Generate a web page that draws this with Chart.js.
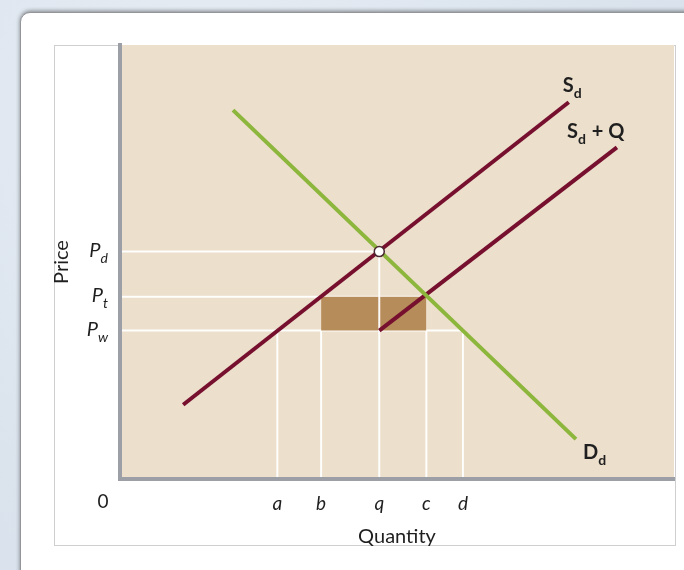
<!DOCTYPE html>
<html>
<head>
<meta charset="utf-8">
<script src="https://cdn.jsdelivr.net/npm/chart.js@4.4.1/dist/chart.umd.min.js"></script>
<style>
  html, body { margin: 0; padding: 0; }
  body { width: 684px; height: 570px; overflow: hidden; position: relative;
    background: radial-gradient(circle at 30% 20%, #e6edf4 0%, #dbe3ed 60%, #d8e1ec 100%); }
  #card { position: absolute; left: 20px; top: 12px; width: 720px; height: 620px; background: #fff;
    border-radius: 10px; border: 1px solid #939599; box-shadow: 0 -1px 4px rgba(0,0,0,0.45); }
  #frame { position: absolute; left: 54px; top: 45px; width: 620px; height: 499px; border: 1px solid #cfcfcf; background: #fff; }
  #wrap { position: absolute; left: 0; top: 0; width: 684px; height: 570px; }
</style>
</head>
<body>
<div id="card"></div>
<div id="frame"></div>
<div id="wrap"><canvas id="chart" width="684" height="570"></canvas></div>
<script>
// quantities on the x axis: a, b, q, c, d
const quantityTicks = [28.4, 36.3, 46.8, 55.3, 61.9];
const quantityLabels = ['a', 'b', 'q', 'c', 'd'];
// prices on the y axis: Pw, Pt, Pd
const priceTicks = [34.2, 42.0, 52.4];
const priceLabels = [['P', 'w'], ['P', 't'], ['P', 'd']];
// curves (end points)
const demandPts = [[20.4, 85.0], [82.3, 9.2]];
const supplyPts = [[11.4, 17.1], [81.0, 86.8]];
const supplyQuotaPts = [[46.8, 34.2], [89.7, 76.4]];
const curveNames = [['S', 'd', ''], ['S', 'd', ' + Q'], ['D', 'd', '']];

const [qa, qb, qq, qc, qd] = quantityTicks;
const [pw, pt, pd] = priceTicks;

const MAROON = '#76102e';
const GREEN = '#8cb63c';
const GUIDE = 'rgba(255,255,255,0.95)';
const TEXT = '#1f1f1f';

function toXY(pts) { return pts.map(p => ({ x: p[0], y: p[1] })); }
function guide(x1, y1, x2, y2) {
  return { data: [{ x: x1, y: y1 }, { x: x2, y: y2 }], borderColor: GUIDE, borderWidth: 2, pointRadius: 0 };
}

function drawSub(ctx, x, y, parts, size, weight, style, align) {
  const mainFont = `${style} ${weight} ${size}px Lato`;
  const subFont = `${style} ${weight} ${Math.round(size * 0.68)}px Lato`;
  ctx.font = mainFont; const w1 = ctx.measureText(parts[0]).width;
  ctx.font = subFont; const w2 = ctx.measureText(parts[1]).width;
  ctx.font = mainFont; const w3 = parts[2] ? ctx.measureText(parts[2]).width : 0;
  let x0 = align === 'right' ? x - (w1 + w2 + w3) : x;
  ctx.textAlign = 'left';
  ctx.textBaseline = 'alphabetic';
  ctx.font = mainFont; ctx.fillText(parts[0], x0, y);
  ctx.font = subFont; ctx.fillText(parts[1], x0 + w1, y + Math.round(size * 0.3));
  if (parts[2]) { ctx.font = mainFont; ctx.fillText(parts[2], x0 + w1 + w2 + 1, y); }
}

const paperPlugin = {
  id: 'paper',
  beforeDraw(chart) {
    const { ctx, chartArea: a } = chart;
    ctx.save();
    ctx.fillStyle = '#ecdfcb';
    ctx.fillRect(a.left, a.top, a.right - a.left, a.bottom - a.top);
    ctx.restore();
  },
  afterDraw(chart) {
    const { ctx } = chart;
    const xs = chart.scales.x, ys = chart.scales.y;
    ctx.save();
    ctx.fillStyle = TEXT;
    // price labels
    priceTicks.forEach((v, i) => {
      const py = ys.getPixelForValue(v);
      drawSub(ctx, 108, py + 5, [priceLabels[i][0], priceLabels[i][1], ''], 20, 'normal', 'italic', 'right');
    });
    // origin
    ctx.font = '19px Lato';
    ctx.textAlign = 'center';
    ctx.textBaseline = 'middle';
    ctx.fillText('0', 103, 502);
    // curve labels
    const ends = [supplyPts[1], supplyQuotaPts[1], demandPts[1]];
    const offs = [[-6, -10], [-50, -9], [7, 20]];
    ends.forEach((p, i) => {
      const px = xs.getPixelForValue(p[0]) + offs[i][0];
      const py = ys.getPixelForValue(p[1]) + offs[i][1];
      drawSub(ctx, px, py, curveNames[i], 20, 'bold', 'normal', 'left');
    });
    ctx.restore();
  }
};

const datasets = [
  { data: [{ x: qq, y: pd }], showLine: false, pointRadius: 5, pointBackgroundColor: '#fff',
    pointBorderColor: '#4a2630', pointBorderWidth: 1.5 },
  { data: toXY(demandPts), borderColor: GREEN, borderWidth: 4, pointRadius: 0 },
  { data: toXY(supplyQuotaPts), borderColor: MAROON, borderWidth: 4, pointRadius: 0 },
  { data: toXY(supplyPts), borderColor: MAROON, borderWidth: 4, pointRadius: 0 },
  guide(qq, 0, qq, pd),
  { data: [{ x: qb, y: pt }, { x: qc, y: pt }], borderWidth: 0, pointRadius: 0,
    fill: { value: pw }, backgroundColor: '#b68c5a' },
  guide(0, pd, qq, pd),
  guide(0, pt, qc, pt),
  guide(0, pw, qd, pw),
  guide(qa, 0, qa, pw),
  guide(qb, 0, qb, pw),
  guide(qc, 0, qc, pw),
  guide(qd, 0, qd, pw)
];

new Chart(document.getElementById('chart'), {
  type: 'line',
  data: { datasets: datasets },
  options: {
    responsive: false,
    animation: false,
    events: [],
    layout: { padding: { top: 45, right: 10, left: 0, bottom: 0 } },
    plugins: { legend: { display: false }, tooltip: { enabled: false } },
    scales: {
      x: {
        type: 'linear', min: 0, max: 100, position: 'bottom',
        afterFit: s => { s.height = 91; },
        afterBuildTicks: s => { s.ticks = quantityTicks.map(v => ({ value: v })); },
        grid: { display: false, drawTicks: false },
        border: { display: true, color: '#9c9fa6', width: 4, z: 1 },
        ticks: { padding: 13, autoSkip: false, maxRotation: 0, color: TEXT,
          font: { family: 'Lato', size: 19, style: 'italic' },
          callback: (v, i) => quantityLabels[i] },
        title: { display: true, text: 'Quantity', color: TEXT,
          font: { family: 'Lato', size: 20 }, padding: { top: 0, bottom: 21 } }
      },
      y: {
        type: 'linear', min: 0, max: 100,
        afterFit: s => { s.width = 120; },
        grid: { display: false, drawTicks: false },
        border: { display: true, color: '#9c9fa6', width: 4, z: 1 },
        ticks: { display: false },
        title: { display: true, text: 'Price', color: TEXT,
          font: { family: 'Lato', size: 20 }, padding: { top: 50, bottom: 0 } }
      }
    }
  },
  plugins: [paperPlugin]
});
</script>
</body>
</html>
